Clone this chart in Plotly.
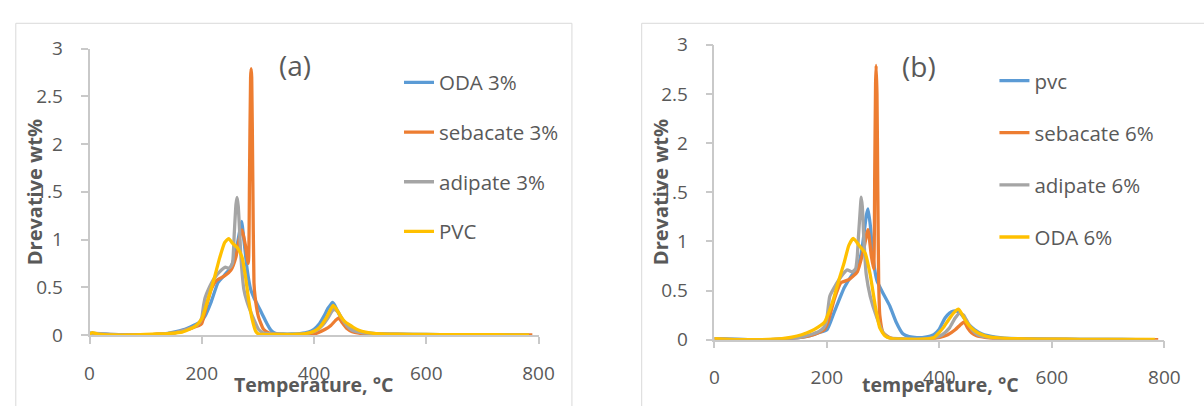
import plotly.graph_objects as go

# ---------------- data: panel (a) ----------------
a_T_oda = [0, 20, 50, 100, 130, 150, 170, 185, 195, 200, 206, 217, 229, 241, 252, 261, 267, 271, 275, 281,
           287, 293, 299, 305, 310, 316, 322, 327, 333, 345, 360, 375, 390, 400, 410, 418, 425, 430, 433, 437,
           442, 448, 455, 462, 472, 485, 500, 520, 550, 600, 650, 700, 750, 783]
a_v_oda = [0.02, 0.01, 0.0, 0.0, 0.01, 0.03, 0.06, 0.1, 0.13, 0.15, 0.2, 0.35, 0.55, 0.63, 0.71, 0.88, 1.07, 1.19, 1.0, 0.68,
           0.48, 0.39, 0.32, 0.25, 0.19, 0.12, 0.06, 0.03, 0.015, 0.01, 0.01, 0.015, 0.03, 0.06, 0.12, 0.2, 0.28, 0.32, 0.34, 0.31,
           0.25, 0.18, 0.12, 0.08, 0.05, 0.03, 0.02, 0.012, 0.008, 0.005, 0.003, 0.002, 0.001, 0.0]

a_T_seb = [0, 30, 60, 100, 130, 150, 170, 185, 195, 200, 209, 217, 226, 241, 252, 261, 268, 272, 278, 283,
           285, 287, 288, 289, 291, 293, 295, 301, 310, 320, 335, 350, 370, 390, 405, 420, 430, 438, 444, 450,
           458, 468, 480, 500, 530, 600, 700, 789]
a_v_seb = [0.01, 0.0, 0.0, 0.0, 0.01, 0.02, 0.05, 0.08, 0.1, 0.12, 0.32, 0.48, 0.57, 0.62, 0.68, 0.82, 1.04, 1.1, 0.93, 0.75,
           1.6, 2.7, 2.79, 2.7, 1.6, 0.55, 0.4, 0.19, 0.06, 0.02, 0.005, 0.0, 0.0, 0.005, 0.02, 0.06, 0.1, 0.15, 0.18, 0.13,
           0.07, 0.035, 0.02, 0.01, 0.005, 0.002, 0.0, 0.0]

a_T_adi = [0, 30, 60, 100, 130, 150, 170, 185, 195, 200, 203, 206, 212, 223, 235, 242, 248, 252, 255, 258,
           261, 263, 265, 267, 270, 275, 280, 284, 293, 301, 310, 330, 350, 370, 390, 405, 415, 425, 432, 436,
           443, 450, 458, 468, 480, 500, 530, 600, 700, 783]
a_v_adi = [0.02, 0.01, 0.0, 0.0, 0.01, 0.02, 0.05, 0.08, 0.12, 0.18, 0.3, 0.39, 0.48, 0.6, 0.68, 0.71, 0.7, 0.72, 0.76, 1.07,
           1.37, 1.44, 1.35, 1.14, 0.8, 0.48, 0.36, 0.29, 0.16, 0.06, 0.02, 0.01, 0.005, 0.005, 0.02, 0.05, 0.1, 0.18, 0.25, 0.27,
           0.24, 0.17, 0.1, 0.05, 0.03, 0.015, 0.008, 0.004, 0.002, 0.0]

a_T_pvc = [0, 5, 15, 40, 80, 120, 140, 165, 188, 200, 212, 223, 232, 241, 248, 255, 264, 272, 278, 284,
           290, 296, 301, 310, 330, 350, 370, 385, 400, 410, 421, 428, 434, 440, 448, 455, 462, 470, 480, 492,
           503, 520, 550, 600, 650, 700, 750, 783]
a_v_pvc = [0.01, 0.025, 0.01, 0.0, 0.0, 0.01, 0.015, 0.03, 0.09, 0.17, 0.39, 0.61, 0.81, 0.97, 1.01, 0.96, 0.91, 0.81, 0.61, 0.35,
           0.16, 0.04, 0.01, 0.005, 0.005, 0.005, 0.008, 0.015, 0.04, 0.08, 0.17, 0.25, 0.31, 0.27, 0.19, 0.14, 0.11, 0.08, 0.05, 0.03,
           0.02, 0.012, 0.008, 0.005, 0.004, 0.003, 0.002, 0.002]

# ---------------- data: panel (b) ----------------
b_T_pvc = [0, 30, 60, 100, 130, 150, 170, 185, 200, 213, 231, 245, 254, 262, 270, 273, 277, 283, 289, 300,
           312, 323, 335, 346, 360, 375, 390, 399, 410, 418, 425, 431, 437, 445, 453, 463, 475, 486, 500, 515,
           540, 600, 650, 700, 750, 783]
b_v_pvc = [0.01, 0.005, 0.0, 0.0, 0.01, 0.02, 0.04, 0.07, 0.1, 0.28, 0.53, 0.66, 0.72, 0.91, 1.26, 1.33, 1.17, 0.79, 0.6, 0.47,
           0.34, 0.18, 0.06, 0.03, 0.02, 0.025, 0.05, 0.1, 0.22, 0.27, 0.29, 0.29, 0.27, 0.21, 0.15, 0.1, 0.06, 0.04, 0.025, 0.015,
           0.01, 0.005, 0.003, 0.002, 0.001, 0.0]

b_T_seb = [0, 30, 60, 100, 130, 150, 170, 185, 195, 202, 213, 225, 239, 254, 265, 273, 279, 283, 285, 286.5,
           287.5, 289, 290.5, 292, 294, 300, 312, 325, 340, 360, 380, 399, 415, 428, 437, 444, 450, 457, 466, 474,
           490, 510, 550, 600, 700, 789]
b_v_seb = [0.01, 0.0, 0.0, 0.0, 0.01, 0.02, 0.04, 0.07, 0.1, 0.18, 0.41, 0.58, 0.61, 0.69, 0.91, 1.12, 0.85, 0.72, 1.7, 2.6,
           2.79, 2.5, 1.5, 0.6, 0.25, 0.07, 0.02, 0.005, 0.0, 0.0, 0.005, 0.02, 0.05, 0.1, 0.15, 0.18, 0.12, 0.07, 0.04, 0.03,
           0.015, 0.01, 0.005, 0.002, 0.0, 0.0]

b_T_adi = [0, 30, 60, 100, 130, 150, 170, 185, 194, 199, 205, 213, 225, 236, 245, 251, 254, 256, 259, 261,
           263, 265, 268, 270, 277, 289, 300, 310, 330, 350, 370, 390, 405, 418, 428, 436, 443, 450, 458, 468,
           480, 500, 530, 600, 700, 783]
b_v_adi = [0.01, 0.005, 0.0, 0.0, 0.01, 0.02, 0.05, 0.08, 0.12, 0.18, 0.44, 0.53, 0.64, 0.71, 0.69, 0.72, 0.85, 1.04, 1.3, 1.45,
           1.35, 1.1, 0.8, 0.66, 0.44, 0.22, 0.07, 0.02, 0.01, 0.005, 0.005, 0.02, 0.05, 0.12, 0.22, 0.27, 0.25, 0.18, 0.1, 0.05,
           0.03, 0.015, 0.008, 0.004, 0.002, 0.0]

b_T_oda = [0, 40, 80, 120, 138, 155, 173, 185, 196, 205, 213, 222, 231, 239, 247, 257, 268, 277, 286, 294,
           303, 315, 340, 370, 390, 399, 408, 416, 425, 434, 441, 448, 455, 463, 474, 486, 500, 520, 550, 600,
           650, 700, 750, 783]
b_v_oda = [0.01, 0.0, 0.0, 0.01, 0.025, 0.05, 0.09, 0.13, 0.18, 0.3, 0.44, 0.62, 0.79, 0.96, 1.03, 0.96, 0.88, 0.66, 0.34, 0.12,
           0.04, 0.01, 0.005, 0.005, 0.02, 0.07, 0.13, 0.2, 0.27, 0.31, 0.25, 0.18, 0.13, 0.09, 0.055, 0.03, 0.02, 0.012, 0.008, 0.005,
           0.003, 0.002, 0.002, 0.002]

names_a = ["ODA 3%", "sebacate 3%", "adipate 3%", "PVC"]
names_b = ["pvc", "sebacate 6%", "adipate 6%", "ODA 6%"]
x_ticks = [0, 200, 400, 600, 800]
y_ticks = [0, 0.5, 1, 1.5, 2, 2.5, 3]
y_ticktext = ["0", "0.5", "1", "1.5", "2", "2.5", "3"]

# ---------------- styling ----------------
W, H = 1204, 406
COLORS = ["#5B9BD5", "#ED7D31", "#A5A5A5", "#FFC000"]
FONT = "Open Sans"
TXT = "#595959"
AX = "#c9c9c9"


def px(x):
    return x / W


def py(y):
    return 1 - y / H


fig = go.Figure()

series_a = [(a_T_oda, a_v_oda), (a_T_seb, a_v_seb), (a_T_adi, a_v_adi), (a_T_pvc, a_v_pvc)]
series_b = [(b_T_pvc, b_v_pvc), (b_T_seb, b_v_seb), (b_T_adi, b_v_adi), (b_T_oda, b_v_oda)]

for i, (name, (T, v)) in enumerate(zip(names_a, series_a)):
    fig.add_trace(go.Scatter(x=T, y=v, mode="lines", name=name,
                             line=dict(color=COLORS[i], width=3.3, shape="spline", smoothing=0.5),
                             xaxis="x", yaxis="y", legend="legend", legendgroup="a%d" % i))
for i, (name, (T, v)) in enumerate(zip(names_b, series_b)):
    fig.add_trace(go.Scatter(x=T, y=v, mode="lines", name=name,
                             line=dict(color=COLORS[i], width=3.3, shape="spline", smoothing=0.5),
                             xaxis="x2", yaxis="y2", legend="legend2", legendgroup="b%d" % i))


def xaxis(domain, anchor):
    return dict(domain=domain, anchor=anchor, range=[0, 800], tickvals=x_ticks,
                showline=True, linecolor=AX, linewidth=1.5, ticks="outside", ticklen=7,
                tickcolor=AX, tickwidth=1.5, showgrid=False, zeroline=False,
                tickfont=dict(family=FONT, size=19, color=TXT), ticklabelstandoff=13,
                fixedrange=True)


def yaxis(domain, anchor):
    return dict(domain=domain, anchor=anchor, range=[0, 3], tickvals=y_ticks, ticktext=y_ticktext,
                showline=True, linecolor=AX, linewidth=1.5, ticks="outside", ticklen=7,
                tickcolor=AX, tickwidth=1.5, showgrid=False, zeroline=False,
                tickfont=dict(family=FONT, size=19, color=TXT), ticklabelstandoff=14,
                fixedrange=True)


def legend(x, y, gap):
    return dict(x=x, y=y, xanchor="left", yanchor="top", bgcolor="rgba(0,0,0,0)",
                font=dict(family=FONT, size=20.5, color=TXT), tracegroupgap=gap,
                traceorder="grouped", itemwidth=30)


fig.update_layout(
    width=W, height=H, margin=dict(l=0, r=0, t=0, b=0),
    paper_bgcolor="white", plot_bgcolor="white",
    font=dict(family=FONT, color=TXT),
    xaxis=xaxis([px(86), px(543)], "y"),
    yaxis=yaxis([py(344), py(38)], "x"),
    xaxis2=xaxis([px(722), px(1180)], "y2"),
    yaxis2=yaxis([py(349), py(34)], "x2"),
    legend=legend(px(401), py(53), 20),
    legend2=legend(px(1007), py(51), 22.5),
    shapes=[
        dict(type="rect", xref="paper", yref="paper", x0=px(11), x1=px(577), y0=py(430), y1=py(11),
             line=dict(color="#d9d9d9", width=1), layer="below"),
        dict(type="rect", xref="paper", yref="paper", x0=px(648), x1=px(1230), y0=py(430), y1=py(11),
             line=dict(color="#d9d9d9", width=1), layer="below"),
    ],
    annotations=[
        dict(text="(a)", x=px(295), y=py(56), xref="paper", yref="paper", showarrow=False,
             xanchor="center", yanchor="middle", font=dict(family=FONT, size=28, color=TXT)),
        dict(text="(b)", x=px(930), y=py(57), xref="paper", yref="paper", showarrow=False,
             xanchor="center", yanchor="middle", font=dict(family=FONT, size=28, color=TXT)),
        dict(text="Temperature, °C", x=px(314), y=py(397), xref="paper", yref="paper", showarrow=False,
             xanchor="center", yanchor="middle", font=dict(family=FONT, size=19.5, color=TXT, weight="bold")),
        dict(text="temperature, °C", x=px(952), y=py(397), xref="paper", yref="paper", showarrow=False,
             xanchor="center", yanchor="middle", font=dict(family=FONT, size=19.5, color=TXT, weight="bold")),
        dict(text="Drevative wt%", x=px(30), y=py(191), xref="paper", yref="paper", showarrow=False,
             textangle=-90, xanchor="center", yanchor="middle",
             font=dict(family=FONT, size=20, color=TXT, weight="bold")),
        dict(text="Drevative wt%", x=px(667), y=py(191), xref="paper", yref="paper", showarrow=False,
             textangle=-90, xanchor="center", yanchor="middle",
             font=dict(family=FONT, size=20, color=TXT, weight="bold")),
    ],
)

fig.write_html("out.html", config={"displayModeBar": False},
               post_script="document.body.style.margin='0px';document.body.style.padding='0px';"
                           "document.body.style.overflow='hidden';")
